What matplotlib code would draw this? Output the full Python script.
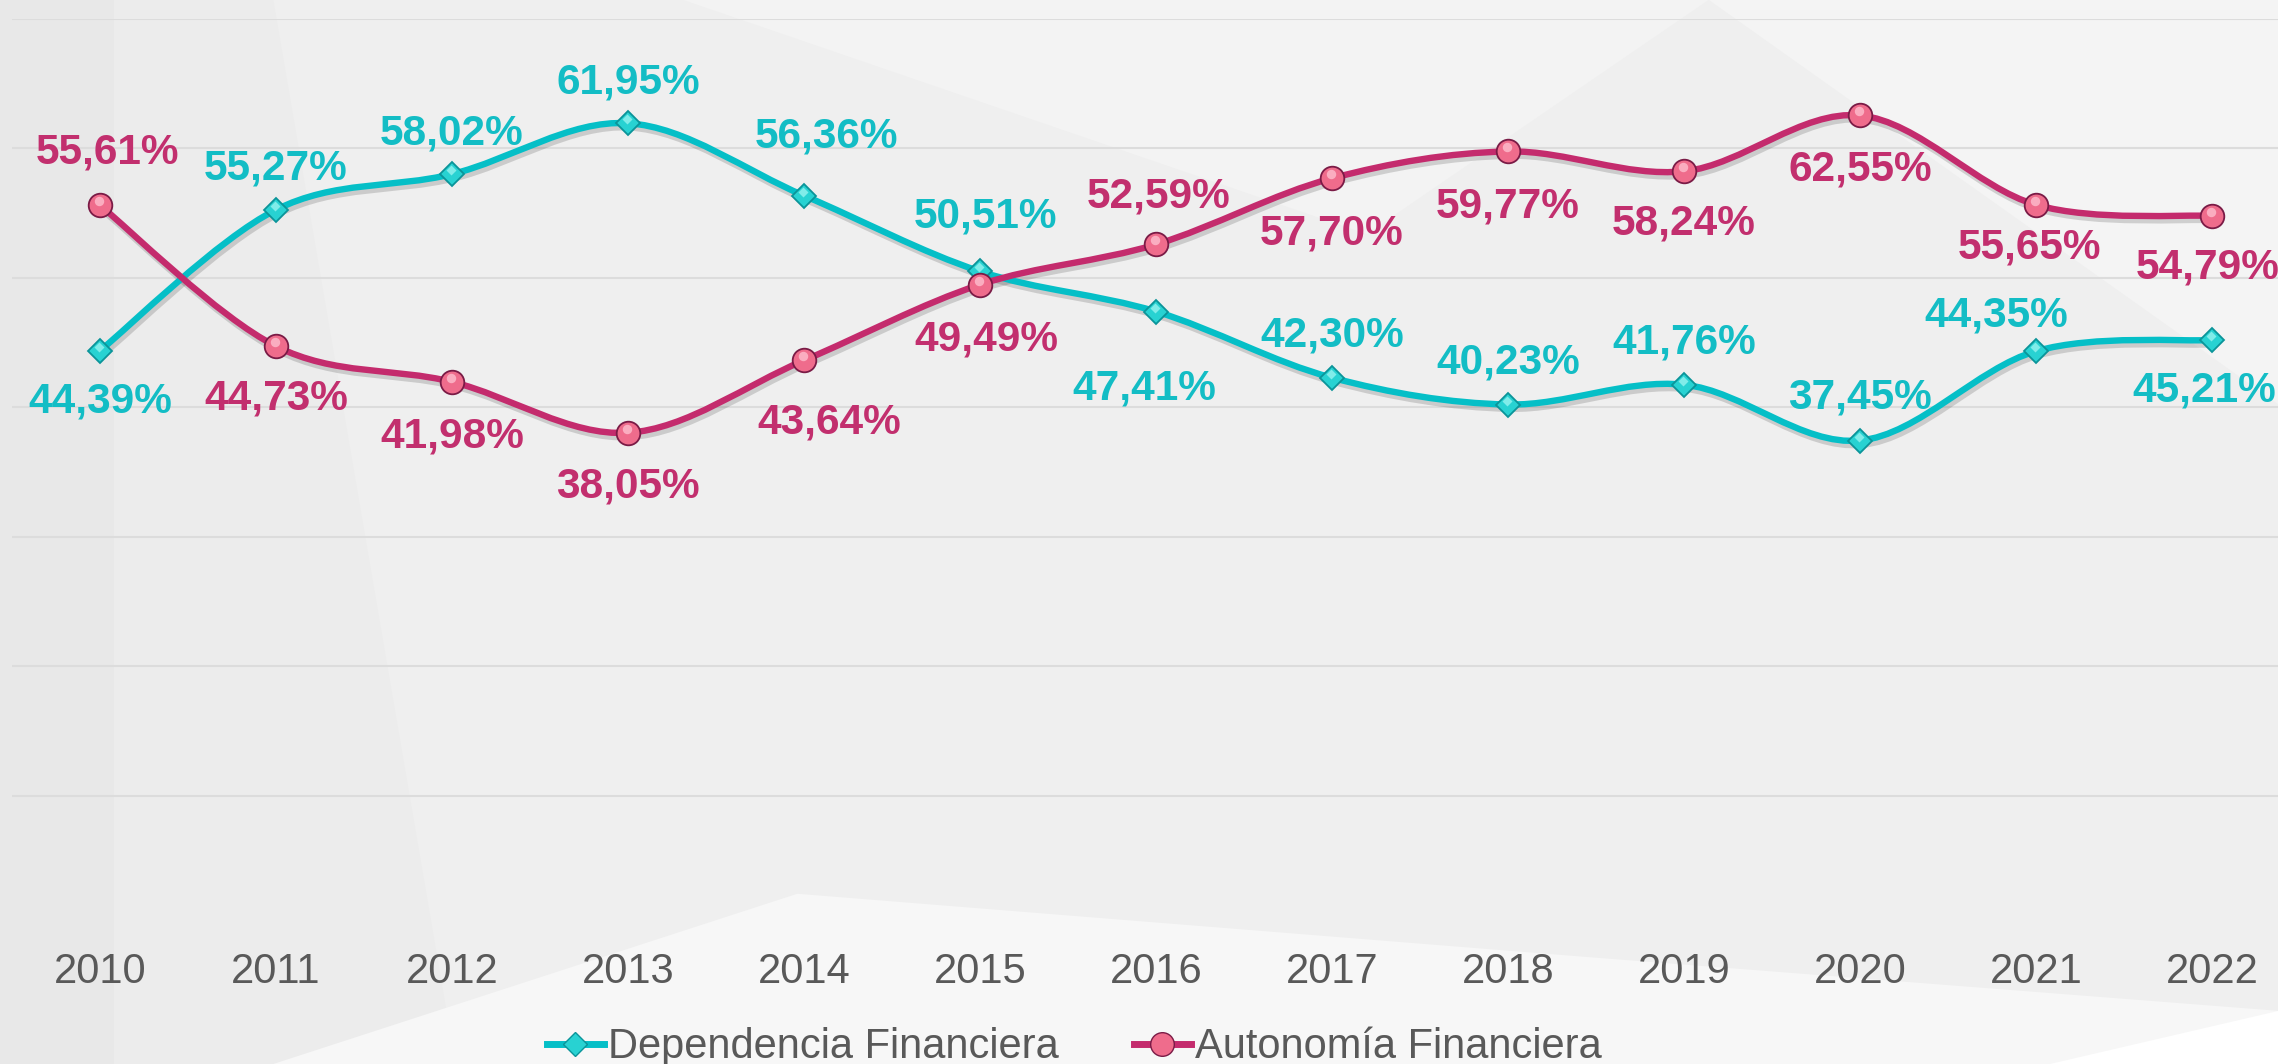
#!/usr/bin/env python3
"""Dependencia vs Autonomia financiera 2010-2022, smoothed lines with data labels."""

import matplotlib

matplotlib.use("Agg")
import matplotlib.pyplot as plt
from matplotlib.lines import Line2D
from matplotlib.patches import PathPatch, Polygon
from matplotlib.path import Path
from matplotlib.transforms import offset_copy

OUT = "out.png"

YEARS = ["2010", "2011", "2012", "2013", "2014", "2015", "2016",
         "2017", "2018", "2019", "2020", "2021", "2022"]
DEPENDENCIA = [44.39, 55.27, 58.02, 61.95, 56.36, 50.51, 47.41,
               42.30, 40.23, 41.76, 37.45, 44.35, 45.21]
AUTONOMIA = [55.61, 44.73, 41.98, 38.05, 43.64, 49.49, 52.59,
             57.70, 59.77, 58.24, 62.55, 55.65, 54.79]
SERIES_NAMES = ["Dependencia Financiera", "Autonomía Financiera"]

# label placement relative to each marker, in pixels (dx right, dy down to cap centre)
DEP_DX = [0, 0, 0, 0, 22, 5, -12, 0, 0, 0, 0, -40, -8]
DEP_DY = [47, -45, -45, -45, -63, -59, 73, -46, -46, -46, -47, -40, 46]
AUT_DX = [7, 0, 0, 0, 25, 6, 3, 0, 0, 0, 0, -7, -4]
AUT_DY = [-57, 48, 51, 50, 58, 51, -52, 51, 51, 48, 50, 39, 48]

CYAN = "#05BFC7"
CYAN_TXT = "#13BDC5"
PINK = "#C42B6D"
PINK_TXT = "#C22F6E"
GRAY_TXT = "#595959"
FONT = "Liberation Sans"


def smooth_path(xs, ys):
    """Excel-style smoothed line as cubic Bezier segments through the points."""
    pts = list(zip(xs, ys))
    n = len(pts)
    verts = [pts[0]]
    codes = [Path.MOVETO]
    for i in range(n - 1):
        p0 = pts[max(i - 1, 0)]
        p1 = pts[i]
        p2 = pts[i + 1]
        p3 = pts[min(i + 2, n - 1)]
        c1 = (p1[0] + (p2[0] - p0[0]) / 6, p1[1] + (p2[1] - p0[1]) / 6)
        c2 = (p2[0] - (p3[0] - p1[0]) / 6, p2[1] - (p3[1] - p1[1]) / 6)
        verts += [c1, c2, p2]
        codes += [Path.CURVE4] * 3
    return Path(verts, codes)


def draw_series(ax, fig, values, color, marker, ms, face, edge, hi):
    xs = list(range(len(values)))
    path = smooth_path(xs, values)
    shadow = offset_copy(ax.transData, fig=fig, x=2, y=-4, units="dots")
    ax.add_patch(PathPatch(path, facecolor="none", edgecolor="#000000", alpha=0.15,
                           lw=5.0, transform=shadow, capstyle="round", zorder=2))
    ax.add_patch(PathPatch(path, facecolor="none", edgecolor=color, lw=4.6,
                           capstyle="round", joinstyle="round", zorder=3))
    ax.plot(xs, values, linestyle="none", marker=marker, ms=ms, mfc=face, mec=edge,
            mew=1.3, zorder=4)
    glint = offset_copy(ax.transData, fig=fig, x=-1, y=4, units="dots")
    ax.plot(xs, values, linestyle="none", marker=marker, ms=ms * 0.4, mfc=hi, mec="none",
            alpha=0.75, transform=glint, zorder=5)


def label_series(ax, values, dxs, dys, color):
    for i, (v, dx, dy) in enumerate(zip(values, dxs, dys)):
        txt = f"{v:.2f}".replace(".", ",") + "%"
        ax.annotate(txt, xy=(i, v), xytext=(dx, -(dy + 15)), textcoords="offset pixels",
                    ha="center", va="baseline", fontsize=30.5, fontweight="bold",
                    family=FONT, color=color, annotation_clip=False, zorder=6)


def main() -> None:
    fig = plt.figure(figsize=(22.78, 10.64), dpi=100, facecolor="#EFEFEF")

    # soft faceted background, kept behind the chart
    bg = fig.add_axes([0, 0, 1, 1], zorder=-5)
    bg.set_xlim(0, 1)
    bg.set_ylim(0, 1)
    bg.axis("off")
    shapes = [
        ([(0, 0), (0.05, 0), (0.05, 1), (0, 1)], "#E8E8E8"),
        ([(0.05, 0.0), (0.05, 1.0), (0.12, 1.0), (0.2, 0.0)], "#ECECEC"),
        ([(0.3, 1.0), (0.75, 1.0), (0.6, 0.78)], "#F3F3F3"),
        ([(0.75, 1.0), (1.0, 1.0), (1.0, 0.62)], "#F4F4F4"),
        ([(0.12, 0.0), (0.35, 0.16), (0.7, 0.1), (1.0, 0.05), (1.0, 0.0)], "#F7F7F7"),
        ([(0.9, 0.0), (1.0, 0.0), (1.0, 0.05)], "#FFFFFF"),
    ]
    for pts, col in shapes:
        bg.add_patch(Polygon(pts, closed=True, facecolor=col, edgecolor="none"))

    ax = fig.add_axes([12 / 2278, 138.5 / 1064, 2288 / 2278, 0.852], zorder=1)
    ax.set_facecolor("none")
    ax.set_xlim(-0.5, len(YEARS) - 0.5)
    ax.set_ylim(0, 70)
    ax.set_yticks(range(10, 71, 10))
    ax.yaxis.grid(True, color="#DCDCDC", lw=1.5)
    ax.set_axisbelow(True)
    ax.tick_params(axis="y", left=False, labelleft=False)
    ax.set_xticks(range(len(YEARS)))
    ax.set_xticklabels(YEARS, fontsize=30, family=FONT, color=GRAY_TXT)
    ax.tick_params(axis="x", length=0, pad=19)
    for s in ax.spines.values():
        s.set_visible(False)

    draw_series(ax, fig, DEPENDENCIA, CYAN, "D", 12.5, "#28D2D2", "#0B9499", "#9FF5F2")
    draw_series(ax, fig, AUTONOMIA, PINK, "o", 17, "#EF6C8C", "#7A1B46", "#FFC4D2")
    label_series(ax, DEPENDENCIA, DEP_DX, DEP_DY, CYAN_TXT)
    label_series(ax, AUTONOMIA, AUT_DX, AUT_DY, PINK_TXT)

    handles = [
        Line2D([], [], color=CYAN, lw=5, marker="D", ms=12.5, mfc="#28D2D2", mec="#0B9499"),
        Line2D([], [], color=PINK, lw=5, marker="o", ms=17, mfc="#EF6C8C", mec="#7A1B46"),
    ]
    leg = fig.legend(handles, SERIES_NAMES, loc="lower center",
                     bbox_to_anchor=(1074 / 2278, -24 / 1064), ncol=2, frameon=False,
                     borderpad=0, handlelength=1.37, handletextpad=0.1, columnspacing=1.8,
                     prop={"family": FONT, "size": 30}, labelcolor=GRAY_TXT)
    leg.set_zorder(2)

    fig.savefig(OUT, dpi=100, facecolor=fig.get_facecolor())


if __name__ == "__main__":
    main()
